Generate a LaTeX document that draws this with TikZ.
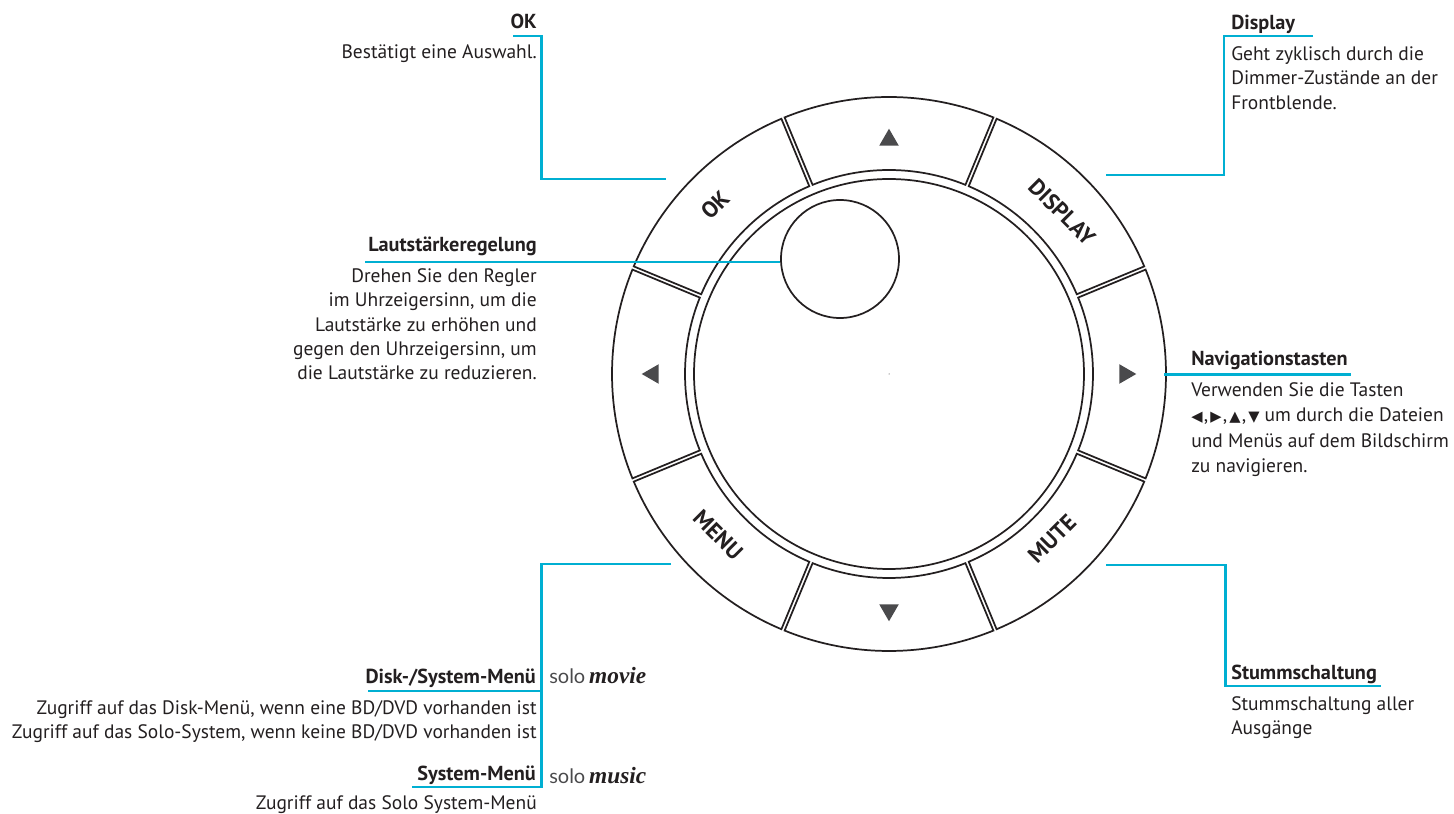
\documentclass[tikz,border=0pt]{standalone}
\usepackage{fontspec}
\usepackage{tikz}
\usetikzlibrary{shapes.geometric}
\setmainfont{PT Sans}
\newfontfamily\symbolfont{DejaVu Sans}
\newfontfamily\solosans{Lato}
\newfontfamily\soloserif{Liberation Serif}
\definecolor{leadblue}{HTML}{00AFD2}
\definecolor{inktext}{HTML}{231F20}
\definecolor{arrowgrey}{HTML}{4A4A4C}
\newcommand{\smalltri}[1]{{\symbolfont\fontsize{11}{9}\selectfont #1}}

\begin{document}
\begin{tikzpicture}[x=0.75pt, y=0.75pt]
  \tikzstyle{lead} = [draw=leadblue, line width=1.6pt, line join=miter]
  \tikzstyle{ring} = [draw=inktext, line width=1.3pt, line join=miter]
  \tikzstyle{head} = [inner sep=0pt, text=inktext, font=\fontsize{15.2}{17}\selectfont\bfseries]
  \tikzstyle{body} = [inner sep=0pt, text=inktext, font=\fontsize{14.6}{18.15}\selectfont]
  \tikzstyle{keycap} = [inner sep=0pt, text=inktext, font=\fontsize{17}{17}\selectfont\bfseries]
  \tikzstyle{tri} = [regular polygon, regular polygon sides=3, fill=arrowgrey, inner sep=0pt, minimum size=16.9pt]
  \tikzstyle{logo} = [inner sep=0pt, text=inktext, anchor=base west]

  \useasboundingbox (0,0) rectangle (1454,814);

  % the eight keys and the two inner circles
  \begin{scope}[shift={(889,440)}]
    \draw[ring] (-22.14:277) arc (-22.14:22.14:277) -- (22:204) arc (22:-22:204) -- cycle;
    \draw[ring] (22.86:277) arc (22.86:67.14:277) -- (67:204) arc (67:23:204) -- cycle;
    \draw[ring] (67.86:277) arc (67.86:112.14:277) -- (112:204) arc (112:68:204) -- cycle;
    \draw[ring] (112.86:277) arc (112.86:157.14:277) -- (157:204) arc (157:113:204) -- cycle;
    \draw[ring] (157.86:277) arc (157.86:202.14:277) -- (202:204) arc (202:158:204) -- cycle;
    \draw[ring] (202.86:277) arc (202.86:247.14:277) -- (247:204) arc (247:203:204) -- cycle;
    \draw[ring] (247.86:277) arc (247.86:292.14:277) -- (292:204) arc (292:248:204) -- cycle;
    \draw[ring] (292.86:277) arc (292.86:337.14:277) -- (337:204) arc (337:293:204) -- cycle;
    \draw[ring] (0,0) circle (195);
    \fill[inktext] (0,0) circle (0.5);

    \node[tri] (upkey) at (90:234) {};
    \node[tri, rotate=180] (downkey) at (270:236) {};
    \node[tri, rotate=90] (leftkey) at (180:236) {};
    \node[tri, rotate=-90] (rightkey) at (0:236) {};
  \end{scope}

  \node[keycap, rotate=45] (okkey) at (715,609) {OK};
  \node[keycap, rotate=-45] (displaykey) at (1062,602) {DISPLAY};
  \node[keycap, rotate=-45] (menukey) at (718,279) {MENU};
  \node[keycap, rotate=45] (mutekey) at (1052,275) {MUTE};

  \node[ring, circle, minimum size=88.5pt, inner sep=0pt] (knob) at (840,555) {};

  % texts
  \node[head, anchor=north east] (okhead) at (537,800) {OK};
  \node[body, anchor=north east] (oktext) at (537,769.5) {Bestätigt eine Auswahl.};
  \node[head, anchor=north west] (displayhead) at (1231,799) {Display};
  \node[body, anchor=north west, align=left] (displaytext) at (1231,767.5) {Geht zyklisch durch die\\Dimmer-Zustände an der\\Frontblende.};
  \node[head, anchor=north east] (volumehead) at (537,577) {Lautstärkeregelung};
  \node[body, anchor=north east, align=right] (volumetext) at (537,545.5) {Drehen Sie den Regler\\im Uhrzeigersinn, um die\\Lautstärke zu erhöhen und\\gegen den Uhrzeigersinn, um\\die Lautstärke zu reduzieren.};
  \node[head, anchor=north west] (navhead) at (1191,463) {Navigationstasten};
  \node[body, anchor=north west, align=left] (navtext) at (1191,431.5) {Verwenden Sie die Tasten\\[0.85pt]\smalltri{◀}\kern1pt,\kern1.5pt\smalltri{▶}\kern1pt,\kern1.5pt\smalltri{▲}\kern1pt,\kern1.5pt\smalltri{▼} um durch die Dateien\\[0.85pt]und Menüs auf dem Bildschirm\\[0.85pt]zu navigieren.};
  \node[head, anchor=north west] (mutehead) at (1231,149.3) {Stummschaltung};
  \node[body, anchor=north west, align=left] (mutetext) at (1231,117.5) {Stummschaltung aller\\Ausgänge};
  \node[head, anchor=north east] (diskhead) at (536,145) {Disk-/System-Menü};
  \node[body, anchor=north east, align=right] (disktext) at (537,113.5) {Zugriff auf das Disk-Menü, wenn eine BD/DVD vorhanden ist\\Zugriff auf das Solo-System, wenn keine BD/DVD vorhanden ist};
  \node[head, anchor=north east] (systemhead) at (536,48.3) {System-Menü};
  \node[body, anchor=north east] (systemtext) at (537,18.5) {Zugriff auf das Solo System-Menü};
  \node[logo] (movielogo) at (549,130) {{\solosans\color{arrowgrey}\fontsize{15}{16}\selectfont solo}{\soloserif\fontsize{17.5}{16}\selectfont\bfseries\itshape\,movie}};
  \node[logo] (musiclogo) at (549,30) {{\solosans\color{arrowgrey}\fontsize{15}{16}\selectfont solo}{\soloserif\fontsize{17.5}{16}\selectfont\bfseries\itshape\,music}};

  % connector ends
  \coordinate (okunder) at (513,778);
  \coordinate (okbend) at (541.5,778);
  \coordinate (okfoot) at (541.5,635);
  \coordinate (okend) at (666,635);
  \coordinate (displayunder) at (1313,778);
  \coordinate (displaybend) at (1224,778);
  \coordinate (displayfoot) at (1224,639);
  \coordinate (displayend) at (1106,639);
  \coordinate (volumeunder) at (365,552);
  \coordinate (navstart) at (1164,439.5);
  \coordinate (navunder) at (1351,439.5);
  \coordinate (menuend) at (671,250);
  \coordinate (menubend) at (541.5,250);
  \coordinate (menufoot) at (541.5,27);
  \coordinate (diskunder) at (368,123);
  \coordinate (diskjoin) at (541.5,123);
  \coordinate (systemunder) at (412,27);
  \coordinate (muteend) at (1106,249);
  \coordinate (mutebend) at (1225.5,249);
  \coordinate (mutefoot) at (1225.5,128);
  \coordinate (muteunder) at (1381,128);

  \draw[lead] (okunder) -- (okbend) -- (okfoot) -- (okend);
  \draw[lead] (displayunder) -- (displaybend) -- (displayfoot) -- (displayend);
  \draw[lead] (volumeunder) -- (knob.west |- volumeunder);
  \draw[lead] (navstart) -- (navunder);
  \draw[lead] (menuend) -- (menubend) -- (menufoot) -- (systemunder);
  \draw[lead] (diskunder) -- (diskjoin);
  \draw[lead] (muteend) -- (mutebend) -- (mutefoot) -- (muteunder);
\end{tikzpicture}
\end{document}
